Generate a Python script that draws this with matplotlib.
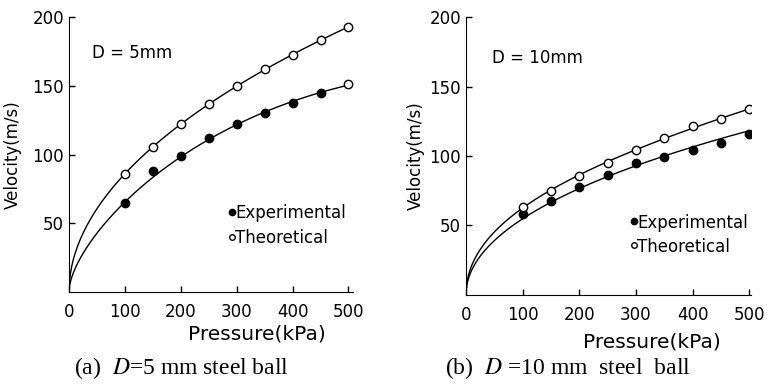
import numpy as np
import matplotlib.pyplot as plt

plt.rcParams['font.family'] = 'DejaVu Sans'
plt.rcParams['mathtext.fontset'] = 'stix'

# measured points, pressure in kPa, velocity in m/s
pressure = [100, 150, 200, 250, 300, 350, 400, 450, 500]

exp_5mm = [64.7, 87.8, 99, 112, 122, 130, 137.5, 145, 151]
theo_5mm = [86, 105.7, 122, 136.7, 149.8, 162, 172.4, 183, 193]

exp_10mm = [58.4, 67.8, 77.4, 86, 94.7, 99.5, 104, 109.5, 115.9]
theo_10mm = [63.2, 75, 85.6, 94.7, 104.5, 112.8, 121.9, 126.9, 133.7]

# curves at a few pressures (all start at the origin)
curve_p = [100, 200, 300, 400, 500]
curve_5mm_upper = [86, 122, 150, 172.4, 193]
curve_5mm_lower = [65, 99, 122, 137.5, 151]
curve_10mm_upper = [63, 85.5, 104.5, 121, 133.5]
curve_10mm_lower = [55, 76, 93, 107, 118]


def smooth(p_read, v_read):
    # least squares v = a*s + b*s^2 + c*s^3 with s = sqrt(p), passes through 0
    s = np.sqrt(np.array(p_read, dtype=float))
    A = np.column_stack([s, s**2, s**3])
    coef = np.linalg.lstsq(A, np.array(v_read, dtype=float), rcond=None)[0]
    p = np.linspace(0, p_read[-1], 400)
    sp = np.sqrt(p)
    return p, coef[0] * sp + coef[1] * sp**2 + coef[2] * sp**3


fig = plt.figure(figsize=(7.71, 3.84), dpi=100)
ax1 = fig.add_axes([0.0895, 0.2396, 0.3683, 0.7161])
ax2 = fig.add_axes([0.6044, 0.2328, 0.3696, 0.7219])

panels = [
    (ax1, exp_5mm, theo_5mm, curve_5mm_upper, curve_5mm_lower, 'D = 5mm',
     508, (41, 174), (297, 57.5), (297, 39), 8, (0.662, -0.118)),
    (ax2, exp_10mm, theo_10mm, curve_10mm_upper, curve_10mm_lower, 'D = 10mm',
     503, (46, 171), (302, 52), (302, 34.5), 3, (0.653, -0.135)),
]

for ax, exp_v, theo_v, cu, cl, dtext, xmax, dpos, epos, tpos, ypad, xlab in panels:
    for c in (cu, cl):
        p, v = smooth(curve_p, c)
        ax.plot(p, v, color='black', lw=1.0)
    if ax is ax1:
        # last point of the lower set is drawn open in the figure
        ax.plot(pressure[:-1], exp_v[:-1], 'o', color='black', ms=6)
        ax.plot(pressure[-1:], exp_v[-1:], 'o', mfc='white', mec='black', ms=6, mew=1.0)
    else:
        ax.plot(pressure, exp_v, 'o', color='black', ms=6)
    ax.plot(pressure, theo_v, 'o', mfc='white', mec='black', ms=6, mew=1.0)

    ax.set_xlim(0, xmax)
    ax.set_ylim(0, 200)
    ax.set_xticks([0, 100, 200, 300, 400, 500])
    ax.set_yticks([50, 100, 150, 200])
    ax.spines['top'].set_visible(False)
    ax.spines['right'].set_visible(False)
    ax.tick_params(direction='in', length=4, width=1.0, labelsize=12)
    ax.tick_params(axis='x', pad=8)
    ax.set_xlabel('Pressure(kPa)', fontsize=14.5)
    ax.xaxis.set_label_coords(xlab[0], xlab[1])
    ax.set_ylabel('Velocity(m/s)', fontsize=12, labelpad=ypad)

    ax.text(dpos[0], dpos[1], dtext, fontsize=12, va='center')
    # hand-made key: small marker followed by the label
    ax.plot([epos[0] - 6], [epos[1] + 1], 'o', color='black', ms=4.5, clip_on=False)
    ax.plot([tpos[0] - 6], [tpos[1] + 1], 'o', mfc='white', mec='black', ms=4, mew=1.0, clip_on=False)
    ax.text(epos[0], epos[1], 'Experimental', fontsize=12, va='center')
    ax.text(tpos[0], tpos[1], 'Theoretical', fontsize=12, va='center')

fig.text(0.235, 0.042, '(a)  $D$=5 mm steel ball', fontsize=17,
         family='Liberation Serif', ha='center', va='center')
fig.text(0.737, 0.042, '(b)  $D$ =10 mm  steel  ball', fontsize=17,
         family='Liberation Serif', ha='center', va='center')

fig.savefig('out.png', dpi=100)
